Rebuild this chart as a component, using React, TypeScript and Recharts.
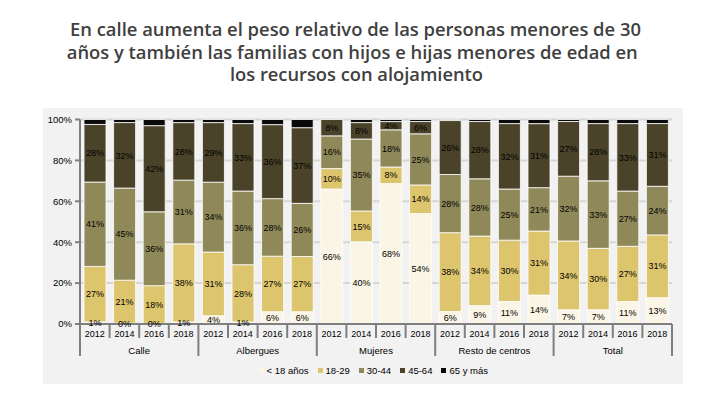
import React from "react";
import { BarChart, Bar, XAxis, YAxis, CartesianGrid, LabelList, Legend } from "recharts";

const groups = ["Calle", "Albergues", "Mujeres", "Resto de centros", "Total"];
const years = ["2012", "2014", "2016", "2018"];

// values per bar, order: groups x years
const menores18 = [1, 0.4, 0.3, 1, 4, 1, 6, 6, 66, 40, 68, 54, 6, 9, 11, 14, 7, 7, 11, 13];
const de18a29 = [27, 21, 18.4, 38, 31, 28, 27, 27, 10, 15, 8, 14, 38, 34, 30, 31, 34, 30, 27, 31];
const de30a44 = [41, 45, 36, 31, 34, 36, 28, 26, 16, 35, 18, 25, 28, 28, 25, 21, 32, 33, 27, 24];
const de45a64 = [28, 32, 42, 28, 29, 33, 36, 37, 8, 8, 4, 6, 26, 28, 32, 31, 27, 28, 33, 31];
const mas65 = [2.4, 1.5, 3, 1.5, 1.5, 2, 2.5, 4, 0, 1.5, 1, 1, 0.5, 1, 2, 2, 1, 2, 2, 2];

const seriesNames = ["< 18 años", "18-29", "30-44", "45-64", "65 y más"];
const seriesKeys = ["m18", "a18", "a30", "a45", "a65"];
const seriesColors = ["#fbf5e5", "#ddc56e", "#8f8959", "#4a432a", "#0a0a0a"];
const yTicks = [0, 0.2, 0.4, 0.6, 0.8, 1];

const titleLines = [
  "En calle aumenta el peso relativo de las personas menores de 30",
  "años y también las familias con hijos e hijas menores de edad en",
  "los recursos con alojamiento",
];

const data = groups.flatMap((g, gi) =>
  years.map((y, yi) => {
    const i = gi * 4 + yi;
    return {
      key: g + "-" + y,
      group: g,
      year: y,
      m18: menores18[i],
      a18: de18a29[i],
      a30: de30a44[i],
      a45: de45a64[i],
      a65: mas65[i],
    };
  })
);

const W = 640;
const H = 276;
const MARGIN = { top: 11.5, right: 11, left: 0, bottom: 0 };
const YW = 37;
const BAND = (W - MARGIN.left - MARGIN.right - YW) / data.length;
const AXIS_FONT = "'Liberation Sans Narrow', 'Liberation Sans', Arial, sans-serif";
const GRAY = "#7f7f7f";

const XTick = (props: any) => {
  const { x, y, payload } = props;
  const idx = payload.index;
  const d = data[idx];
  const left = x - BAND / 2;
  const isGroupStart = idx % 4 === 0;
  const isLast = idx === data.length - 1;
  return (
    <g>
      <line x1={left} x2={left} y1={y} y2={y + (isGroupStart ? 32 : 14)} stroke={GRAY} strokeWidth={2} />
      {isLast && (
        <line x1={x + BAND / 2} x2={x + BAND / 2} y1={y} y2={y + 32} stroke={GRAY} strokeWidth={2} />
      )}
      <text x={x} y={y + 10.5} textAnchor="middle" dominantBaseline="middle" fontSize={9} fill="#000" fontFamily={AXIS_FONT}>
        {d.year}
      </text>
      {idx % 4 === 1 && (
        <text x={x + BAND / 2} y={y + 27} textAnchor="middle" dominantBaseline="middle" fontSize={9.5} fill="#000" fontFamily={AXIS_FONT}>
          {d.group}
        </text>
      )}
    </g>
  );
};

const LegendContent = () => (
  <div
    style={{
      display: "flex",
      justifyContent: "flex-start",
      alignItems: "center",
      paddingLeft: 216,
      height: 20,
      fontFamily: AXIS_FONT,
      fontSize: 9.5,
      color: "#000",
      lineHeight: "14px",
      transform: "translateY(-3px)",
    }}
  >
    {seriesNames.map((n, i) => (
      <div key={n} style={{ display: "flex", alignItems: "center", marginRight: 9 }}>
        <span style={{ width: 5, height: 5, background: seriesColors[i], marginRight: 3, display: "inline-block" }} />
        <span>{n}</span>
      </div>
    ))}
  </div>
);

const fmt = (v: any) => Math.round(Number(v)) + "%";

export default function App() {
  return (
    <div style={{ position: "absolute", left: 0, top: 0, width: 720, height: 405, background: "#fff" }}>
      <svg width={720} height={100} style={{ position: "absolute", left: 0, top: 0 }}>
        {titleLines.map((t, i) => (
          <text
            key={i}
            x={[355.5, 352.3, 356.5][i]}
            y={36 + i * 22.6}
            textAnchor="middle"
            fontFamily="'Open Sans', Lato, sans-serif"
            fontWeight={600}
            fontSize={18}
            fill="#404040"
            textLength={[571, 571, 253][i]}
            lengthAdjust="spacingAndGlyphs"
          >
            {t}
          </text>
        ))}
      </svg>
      <div style={{ position: "absolute", left: 42.5, top: 107.5, width: W, height: H, background: "#f2f2f2" }}>
        <BarChart width={W} height={H} data={data} margin={MARGIN} stackOffset="expand" barSize={22}>
          <CartesianGrid vertical={false} stroke="#d6d6d6" strokeWidth={2} />
          <XAxis
            dataKey="key"
            interval={0}
            tickSize={0}
            tickMargin={0}
            tickLine={false}
            height={40}
            axisLine={{ stroke: GRAY, strokeWidth: 2 }}
            tick={<XTick />}
          />
          <YAxis
            width={YW}
            domain={[0, 1]}
            ticks={yTicks}
            tickFormatter={(v: number) => Math.round(v * 100) + "%"}
            axisLine={{ stroke: GRAY, strokeWidth: 2 }}
            tickLine={{ stroke: GRAY, strokeWidth: 2 }}
            tickSize={5}
            tickMargin={3}
            tick={{ fontSize: 9.5, fill: "#000", fontFamily: AXIS_FONT }}
          />
          <Legend verticalAlign="bottom" height={20} content={<LegendContent />} />
          {seriesKeys.map((k, i) => (
            <Bar
              key={k}
              dataKey={k}
              name={seriesNames[i]}
              stackId="s"
              fill={seriesColors[i]}
              stroke="#ffffff"
              strokeWidth={0.8}
              isAnimationActive={false}
            >
              {i < 4 && (
                <LabelList dataKey={k} position="center" formatter={fmt} fill="#000" fontSize={9} fontFamily={AXIS_FONT} />
              )}
            </Bar>
          ))}
        </BarChart>
      </div>
    </div>
  );
}
